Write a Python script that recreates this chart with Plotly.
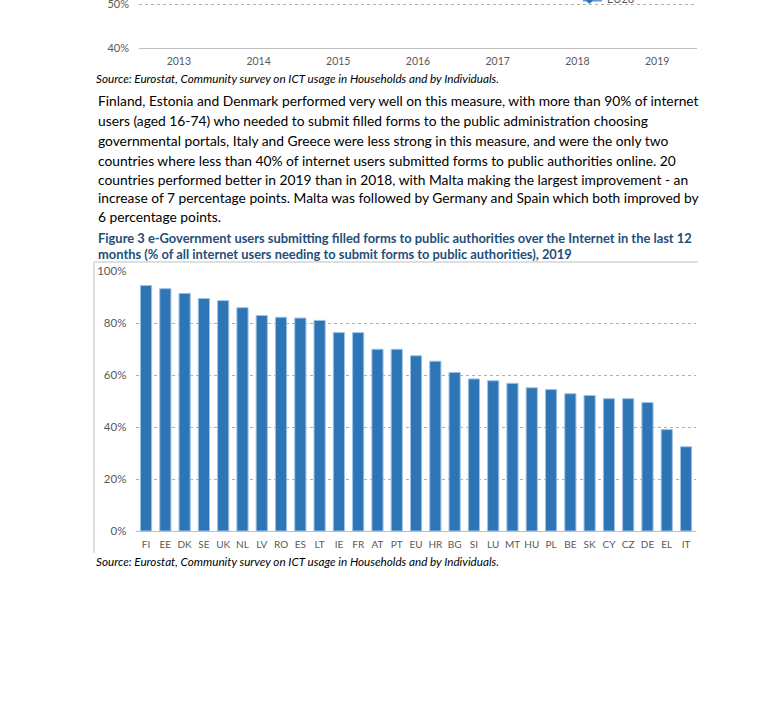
import plotly.graph_objects as go

W, H = 769, 713

def px(x):
    return x / W

def py(y):
    return 1 - y / H

# ---------------- data ----------------
countries = ["FI", "EE", "DK", "SE", "UK", "NL", "LV", "RO", "ES", "LT",
             "IE", "FR", "AT", "PT", "EU", "HR", "BG", "SI", "LU", "MT",
             "HU", "PL", "BE", "SK", "CY", "CZ", "DE", "EL", "IT"]
values = [94.4, 93.2, 91.4, 89.4, 88.6, 85.9, 82.9, 82.2, 81.9, 81.0,
          76.3, 76.3, 69.9, 69.9, 67.4, 65.3, 61.0, 58.5, 57.8, 56.8,
          55.1, 54.4, 52.8, 52.1, 50.9, 50.9, 49.4, 39.0, 32.4]
bar_ticks = [0, 20, 40, 60, 80, 100]
bar_tick_text = ["0%", "20%", "40%", "60%", "80%", "100%"]

years = ["2013", "2014", "2015", "2016", "2017", "2018", "2019"]
top_ticks = [40, 50]
top_tick_text = ["40%", "50%"]

paragraph = [
    "Finland, Estonia and Denmark performed very well on this measure, with more than 90% of internet",
    "users (aged 16-74) who needed to submit filled forms to the public administration choosing",
    "governmental portals, Italy and Greece were less strong in this measure, and were the only two",
    "countries where less than 40% of internet users submitted forms to public authorities online. 20",
    "countries performed better in 2019 than in 2018, with Malta making the largest improvement - an",
    "increase of 7 percentage points. Malta was followed by Germany and Spain which both improved by",
    "6 percentage points.",
]
caption = [
    "Figure 3 e-Government users submitting filled forms to public authorities over the Internet in the last 12",
    "months (% of all internet users needing to submit forms to public authorities), 2019",
]
source = "Source: Eurostat, Community survey on ICT usage in Households and by Individuals."

FONT = "Lato"
TICK = "#595959"
GRID = "#B0B0B0"
AXL = "#BFBFBF"

fig = go.Figure()

# previous chart (only its lower part is visible on the page)
fig.add_trace(go.Scatter(x=years, y=[None] * len(years), mode="lines+markers",
                         name="EU28", xaxis="x", yaxis="y", showlegend=False,
                         line=dict(color="#5B9BD5", width=2)))

fig.add_trace(go.Bar(x=countries, y=values, xaxis="x2", yaxis="y2",
                     showlegend=False,
                     marker=dict(color="#2E75B6", line=dict(color="#9DC3E6", width=1)),
                     hoverinfo="x+y"))

fig.update_layout(
    width=W, height=H,
    margin=dict(l=0, r=0, t=0, b=0, autoexpand=False),
    paper_bgcolor="white", plot_bgcolor="white",
    font=dict(family=FONT, color="black"),
    bargap=0.42,
    xaxis=dict(domain=[px(139), px(697)], anchor="y", type="category",
               categoryorder="array", categoryarray=years, range=[-0.5, 6.5],
               showline=True, linecolor=AXL, linewidth=1, showgrid=False,
               zeroline=False, ticks="", ticklabelstandoff=4, automargin=False,
               tickfont=dict(size=10.5, color=TICK, family=FONT)),
    yaxis=dict(domain=[py(47.7), 1], anchor="x", range=[40, 50.92],
               tickvals=top_ticks, ticktext=top_tick_text, showgrid=True,
               gridcolor=GRID, griddash="dot", gridwidth=1, zeroline=False,
               ticks="", ticklabelstandoff=9, automargin=False,
               ticklabeloverflow="allow",
               tickfont=dict(size=11, color=TICK, family=FONT)),
    xaxis2=dict(domain=[px(136.4), px(695.7)], anchor="y2", type="category",
                showline=True, linecolor=AXL, linewidth=1, showgrid=False,
                zeroline=False, ticks="", ticklabelstandoff=4, automargin=False,
                tickfont=dict(size=10, color=TICK, family=FONT)),
    yaxis2=dict(domain=[py(531), py(271)], anchor="x2", range=[0, 100],
                tickvals=bar_ticks, ticktext=bar_tick_text, showgrid=True,
                gridcolor=GRID, griddash="dot", gridwidth=1, zeroline=False,
                ticks="", ticklabelstandoff=9, automargin=False,
                ticklabeloverflow="allow",
                tickfont=dict(size=11.5, color=TICK, family=FONT)),
)

ann = []
# sources
for yy in (78, 561):
    ann.append(dict(text=source, x=px(94), y=py(yy), xref="paper", yref="paper",
                    xanchor="left", yanchor="middle", showarrow=False,
                    font=dict(size=11.7, style="italic", family=FONT, color="black")))
# paragraph
para_y = [100, 120, 140, 160, 179, 198, 216]
for t, yy in zip(paragraph, para_y):
    ann.append(dict(text=t, x=px(96), y=py(yy), xref="paper", yref="paper",
                    xanchor="left", yanchor="middle", showarrow=False,
                    font=dict(size=13.8, family=FONT, color="black")))
# caption
for t, yy in zip(caption, (238, 254)):
    ann.append(dict(text=t, x=px(96), y=py(yy), xref="paper", yref="paper",
                    xanchor="left", yanchor="middle", showarrow=False,
                    font=dict(size=12.9, family=FONT, weight="bold", color="#1F4E79")))
# legend remnant of the previous chart
ann.append(dict(text="EU28", x=px(605), y=py(-1.5), xref="paper", yref="paper",
                xanchor="left", yanchor="middle", showarrow=False,
                font=dict(size=11, family=FONT, color=TICK)))
fig.update_layout(annotations=ann)

shapes = [
    # chart frame (top and left)
    dict(type="line", xref="paper", yref="paper", x0=px(94), x1=px(698),
         y0=py(262), y1=py(262), line=dict(color=AXL, width=1)),
    dict(type="line", xref="paper", yref="paper", x0=px(94), x1=px(94),
         y0=py(262), y1=py(553), line=dict(color=AXL, width=1)),
    # legend glyph of the previous chart
    dict(type="line", xref="paper", yref="paper", x0=px(583), x1=px(602),
         y0=py(0.5), y1=py(0.5), line=dict(color="#5B9BD5", width=2)),
    dict(type="path", xref="paper", yref="paper",
         path=f"M {px(586)} {py(0.5)} L {px(589.5)} {py(-3)} L {px(593)} {py(0.5)} L {px(589.5)} {py(4)} Z",
         fillcolor="#2E75B6", line=dict(width=0)),
]
fig.update_layout(shapes=shapes)

fig.write_html("out.html",
               config={"displayModeBar": False},
               post_script="document.body.style.margin='0';document.body.style.overflow='hidden';")
